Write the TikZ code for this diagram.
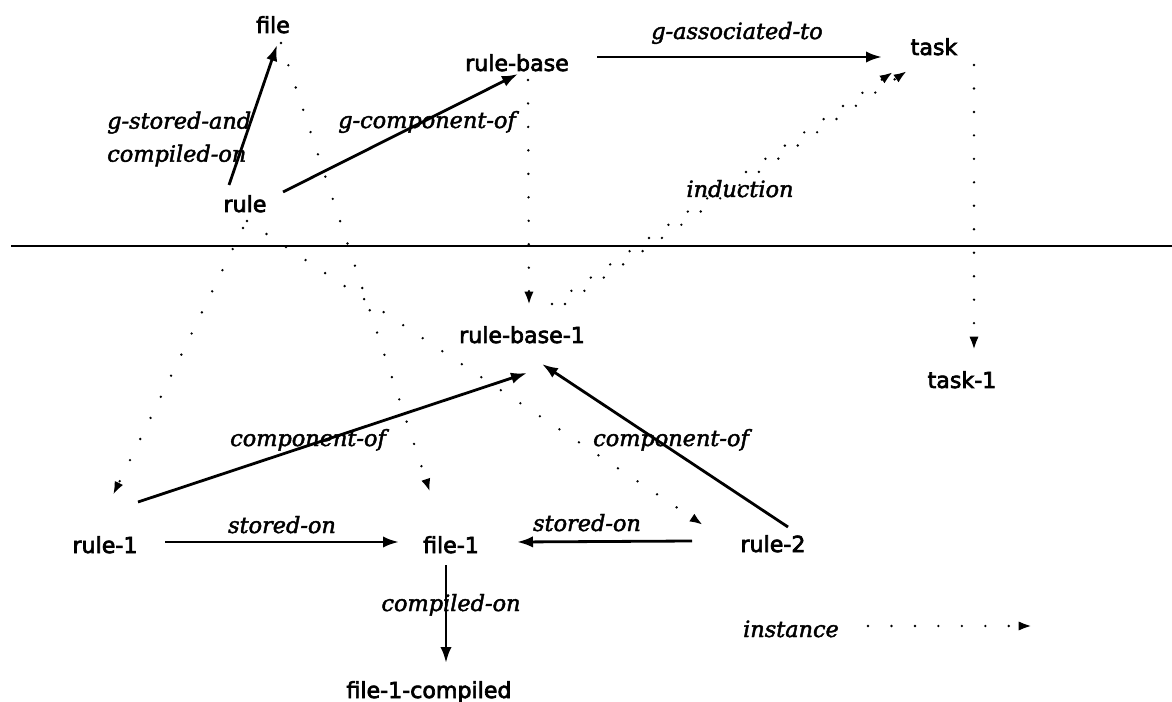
\documentclass[tikz,border=0pt]{standalone}
\usepackage{fontspec}
\usetikzlibrary{arrows.meta}
\newfontfamily\nodefam[FakeBold=3]{DejaVu Sans}
\newfontfamily\lblfam[FakeBold=2]{DejaVu Serif}
\newcommand{\nodefnt}{\nodefam\fontsize{16.6}{20}\selectfont}
\newcommand{\lblfnt}{\lblfam\itshape\fontsize{16.8}{24.75}\selectfont}
\tikzset{
  nd/.style={font=\nodefnt, inner sep=0pt, anchor=base},
  lbl/.style={font=\lblfnt, inner sep=0pt, anchor=base},
  rel/.style={line width=2.1pt, -{Latex[length=12pt,width=8.5pt]}},
  inst/.style={line width=2pt, line cap=round, dash pattern=on 0pt off 17.6pt, -{Latex[length=10pt,width=7pt]}},
  sep/.style={line width=2.2pt}
}
\begin{document}
\begin{tikzpicture}[x=0.75pt,y=-0.75pt]
\path[use as bounding box] (0,0) rectangle (1172,702);

% separator
\draw[sep] (11,246) -- (1172,246);

% generic level
\node[nd] (file)     at (273,33)  {file};
\node[nd] (rulebase) at (517,71)  {rule-base};
\node[nd] (task)     at (934,55)  {task};
\node[nd] (rule)     at (245,212) {rule};

% instance level
\node[nd] (rb1)   at (522,343) {rule-base-1};
\node[nd] (task1) at (962,388) {task-1};
\node[nd] (rule1) at (105,553) {rule-1};
\node[nd] (file1) at (451,553) {file-1};
\node[nd] (rule2) at (773,552) {rule-2};
\node[nd] (fc)    at (429,698) {file-1-compiled};

% labels
\node[lbl, anchor=west, align=left] (lgsc) at (107,139) {g-stored-and\\compiled-on};
\node[lbl] (lgcomp)  at (427,128) {g-component-of};
\node[lbl] (lgassoc) at (737,39)  {g-associated-to};
\node[lbl] (lind)    at (740,197) {induction};
\node[lbl] (lcomp1)  at (308,446) {component-of};
\node[lbl] (lcomp2)  at (671,446) {component-of};
\node[lbl] (lsto1)   at (282,533) {stored-on};
\node[lbl] (lsto2)   at (587,531) {stored-on};
\node[lbl] (lcompil) at (451,611) {compiled-on};
\node[lbl] (linst)   at (791,637) {instance};
\coordinate (legendend) at (1032,626);

% solid relations
\draw[rel] ([shift={(-16,-27)}]rule.base) -- ([shift={(4,12)}]file.base);
\draw[rel] ([shift={(38,-20)}]rule.base) -- ([shift={(1,3)}]rulebase.base);
\draw[rel] ([shift={(80,-14)}]rulebase.base) -- ([shift={(-52,2)}]task.base);
\draw[rel] ([shift={(33,-51)}]rule1.base) -- ([shift={(5,30)}]rb1.base);
\draw[rel] ([shift={(15,-25)}]rule2.base) -- ([shift={(20,21)}]rb1.base);
\draw[rel] ([shift={(60,-11)}]rule1.base) -- ([shift={(-52,-11)}]file1.base);
\draw[rel] ([shift={(-81,-11)}]rule2.base) -- ([shift={(66,-11)}]file1.base);
\draw[rel] ([shift={(-5,12)}]file1.base) -- ([shift={(17,-35)}]fc.base);

% instance relations (dotted)
\draw[inst] ([shift={(11,9)}]rulebase.base) -- ([shift={(7,-38)}]rb1.base);
\draw[inst] ([shift={(40,10)}]task.base) -- ([shift={(12,-38)}]task1.base);
\draw[inst] ([shift={(30,-39)}]rb1.base) -- ([shift={(-41,17)}]task.base);
\draw[inst] ([shift={(43,-39)}]rb1.base) -- ([shift={(-27,16)}]task.base);
\draw[inst] ([shift={(-2,16)}]rule.base) -- ([shift={(8,-58)}]rule1.base);
\draw[inst] ([shift={(8,10)}]file.base) -- ([shift={(-21,-61)}]file1.base);
\draw[inst] ([shift={(2,9)}]rule.base) -- ([shift={(-70,-27)}]rule2.base);
\draw[inst] ([shift={(77,-11)}]linst.base) -- (legendend);
\end{tikzpicture}
\end{document}
